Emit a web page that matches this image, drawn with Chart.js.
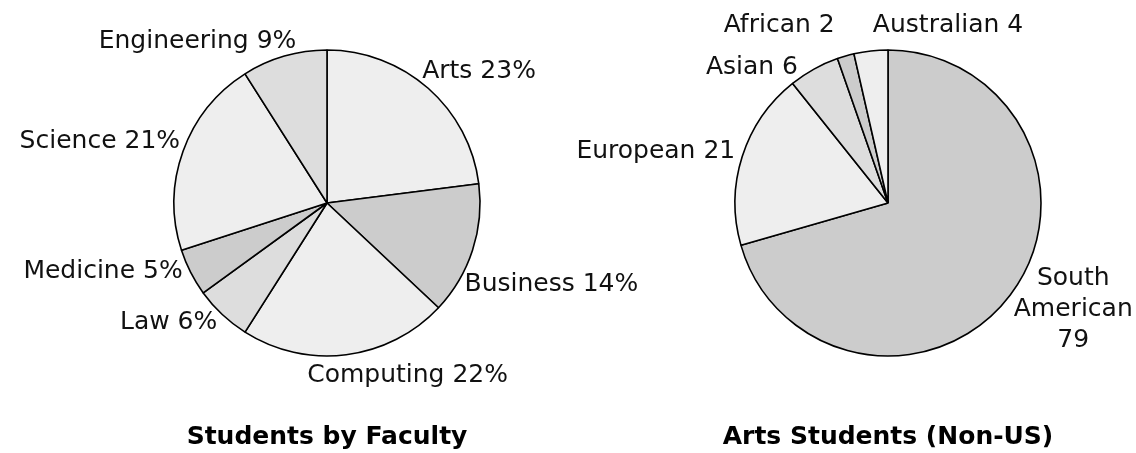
<!DOCTYPE html>
<html>
<head>
<meta charset="utf-8">
<script src="https://cdn.jsdelivr.net/npm/chart.js@4.4.1/dist/chart.umd.min.js"></script>
<style>
  html, body { margin: 0; padding: 0; background: #fff; overflow: hidden; }
  .stage { position: relative; width: 1136px; height: 453px; }
  .stage canvas { position: absolute; left: 0; top: 0; }
</style>
</head>
<body>
<div class="stage">
  <canvas id="faculty" width="1136" height="453"></canvas>
  <canvas id="regions" width="1136" height="453"></canvas>
</div>
<script>
// left pie: share of students per faculty (%)
const facultyNames = ['Arts', 'Business', 'Computing', 'Law', 'Medicine', 'Science', 'Engineering'];
const facultyShares = [23, 14, 22, 6, 5, 21, 9];

// right pie: non-US arts students by region (counts)
const regionNames = ['South American', 'European', 'Asian', 'African', 'Australian'];
const regionCounts = [79, 21, 6, 2, 4];

const FONT = '"DejaVu Sans", Verdana, sans-serif';
const LIGHT = '#eeeeee';
const MID = '#dddddd';
const DARK = '#cccccc';

const facultyFills = [LIGHT, DARK, LIGHT, MID, DARK, LIGHT, MID];
const regionFills = [DARK, LIGHT, MID, DARK, LIGHT];

// where each label sits relative to the outer edge of its slice (mid angle)
const facultyPlacement = [
  { align: 'left', dx: -6, dy: -10 },
  { align: 'left', dx: -8, dy: 41 },
  { align: 'left', dx: -39, dy: 27 },
  { align: 'right', dx: -5, dy: 14 },
  { align: 'right', dx: -8, dy: 6 },
  { align: 'right', dx: -3, dy: -3 },
  { align: 'right', dx: 12, dy: -8 },
];
const regionPlacement = [
  { align: 'center', dx: 63, dy: -10 },
  { align: 'right', dx: -7, dy: 1 },
  { align: 'right', dx: -16, dy: 5 },
  { align: 'right', dx: -11, dy: -24 },
  { align: 'left', dx: 2, dy: -19 },
];

const makeSliceLabels = (lines, placement) => ({
  id: 'sliceLabels',
  afterDatasetsDraw(chart) {
    const { ctx } = chart;
    const arcs = chart.getDatasetMeta(0).data;
    ctx.save();
    ctx.font = `25px ${FONT}`;
    ctx.fillStyle = '#111';
    ctx.textBaseline = 'alphabetic';
    arcs.forEach((arc, i) => {
      const { x, y, startAngle, endAngle, outerRadius } = arc.getProps(['x', 'y', 'startAngle', 'endAngle', 'outerRadius'], true);
      const mid = (startAngle + endAngle) / 2;
      const px = x + Math.cos(mid) * outerRadius;
      const py = y + Math.sin(mid) * outerRadius;
      const spot = placement[i];
      ctx.textAlign = spot.align;
      lines[i].forEach((line, k) => {
        ctx.fillText(line, px + spot.dx, py + spot.dy + k * 31);
      });
    });
    ctx.restore();
  },
});

const pieChart = (id, names, values, fills, title, padding, lines, placement) => {
  const ctx = document.getElementById(id).getContext('2d');
  return new Chart(ctx, {
    type: 'pie',
    data: {
      labels: names,
      datasets: [{
        data: values,
        backgroundColor: fills,
        borderColor: '#000',
        borderWidth: 1.6,
        radius: 153,
      }],
    },
    options: {
      responsive: false,
      animation: false,
      devicePixelRatio: 1,
      layout: { padding },
      plugins: {
        legend: { display: false },
        tooltip: { enabled: false },
        title: {
          display: true,
          position: 'bottom',
          text: title,
          color: '#000',
          font: { family: FONT, size: 25, weight: 'bold', lineHeight: 1.2 },
          padding: { top: 16, bottom: 1 },
        },
      },
    },
    plugins: [makeSliceLabels(lines, placement)],
  });
};

const facultyLines = facultyNames.map((name, i) => [`${name} ${facultyShares[i]}%`]);
const regionLines = regionNames.map((name, i) =>
  name.includes(' ') ? [...name.split(' '), String(regionCounts[i])] : [`${name} ${regionCounts[i]}`]);

pieChart('faculty', facultyNames, facultyShares, facultyFills, 'Students by Faculty',
  { right: 482 }, facultyLines, facultyPlacement);
pieChart('regions', regionNames, regionCounts, regionFills, 'Arts Students (Non-US)',
  { left: 640 }, regionLines, regionPlacement);
</script>
</body>
</html>
